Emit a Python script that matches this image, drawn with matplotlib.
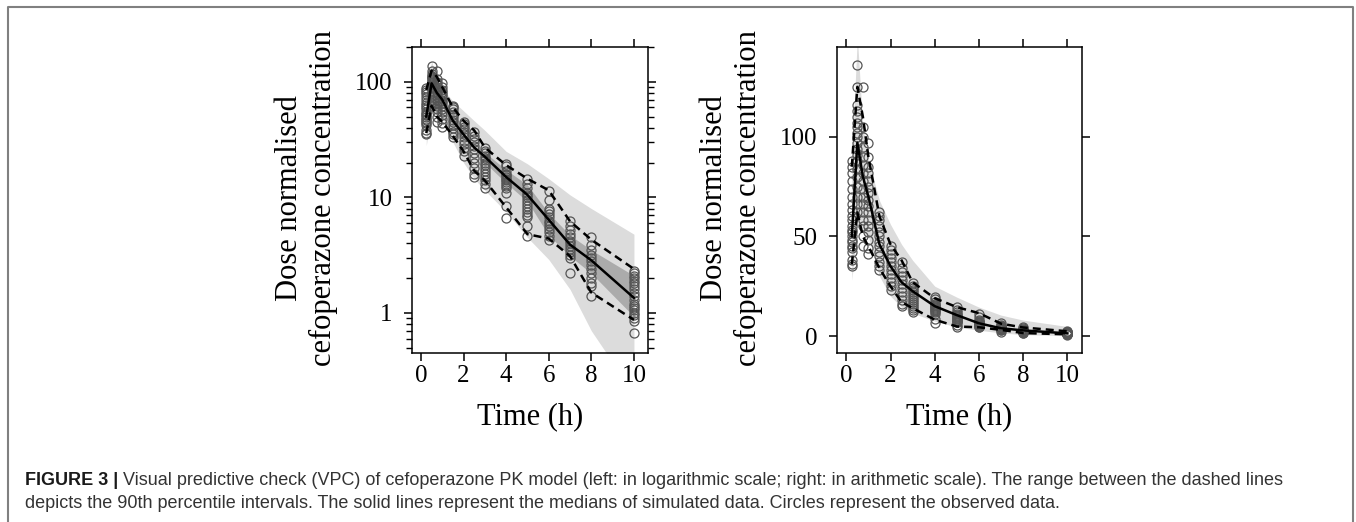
import matplotlib
matplotlib.use('Agg')
import matplotlib.pyplot as plt
from matplotlib.lines import Line2D
from matplotlib.ticker import LogLocator, NullFormatter, FixedLocator, FixedFormatter

# ---------------- data ----------------
bin_times = [0.25, 0.5, 0.75, 1, 1.5, 2, 2.5, 3, 4, 5, 6, 7, 8, 10]

obs_t0_25 = [35, 36, 38, 42, 44, 45, 47, 48, 50, 52, 53, 55, 58, 60, 63, 66, 70, 74, 78, 82, 85, 88]
obs_t0_5 = [62, 66, 70, 75, 80, 84, 88, 91, 94, 97, 100, 102, 105, 107, 110, 113, 116, 125, 136]
obs_t0_75 = [45, 50, 55, 58, 62, 66, 70, 74, 78, 82, 86, 90, 95, 100, 105, 125]
obs_t1 = [41, 44, 48, 52, 55, 58, 62, 65, 68, 72, 75, 78, 82, 85, 90, 97]
obs_t1_5 = [33, 35, 37, 40, 42, 45, 47, 50, 52, 55, 58, 60, 62]
obs_t2 = [23, 25, 27, 29, 31, 33, 35, 37, 39, 41, 43, 45]
obs_t2_5 = [15, 16, 18, 20, 22, 24, 26, 28, 30, 32, 34, 37]
obs_t3 = [12, 13, 14, 15, 16, 17, 18, 19, 20, 21, 22, 23, 24, 25, 26.5]
obs_t4 = [6.6, 8.5, 11, 12, 12.5, 13, 13.5, 14, 14.5, 15, 15.5, 16, 17, 18.5, 19.5]
obs_t5 = [4.6, 5.7, 6.8, 7, 7.5, 8, 8.5, 9, 9.5, 10, 10.5, 11, 12, 13, 14.5]
obs_t6 = [4.3, 4.6, 5, 5.3, 5.6, 6, 6.3, 6.8, 7.2, 7.6, 8, 9.5, 11.3]
obs_t7 = [2.2, 3, 3.2, 3.4, 3.6, 3.8, 4, 4.2, 4.5, 4.8, 5.2, 5.6, 6.3]
obs_t8 = [1.4, 1.7, 1.8, 2, 2.2, 2.4, 2.6, 2.8, 3, 3.2, 3.5, 3.9, 4.5]
obs_t10 = [0.67, 0.85, 0.9, 0.95, 1.0, 1.05, 1.1, 1.15, 1.2, 1.3, 1.4, 1.5, 1.6, 1.7,
           1.8, 1.9, 2.0, 2.1, 2.2, 2.3]

obs_by_time = [obs_t0_25, obs_t0_5, obs_t0_75, obs_t1, obs_t1_5, obs_t2, obs_t2_5,
               obs_t3, obs_t4, obs_t5, obs_t6, obs_t7, obs_t8, obs_t10]

median_sim = [50, 97, 80, 70, 46, 35, 27, 22.5, 15, 10.5, 6.4, 3.9, 2.85, 1.35]
upper_pct = [85, 125, 110, 90, 60, 46, 38, 27, 19, 14.5, 11.5, 6.2, 4.3, 2.4]
lower_pct = [36, 62, 50, 45, 34, 25, 17, 14, 8.2, 4.8, 4.4, 3.1, 1.5, 0.87]

band_outer_hi = [90, 150, 105, 88, 68, 56, 46, 38, 25, 19.5, 14.5, 10.5, 8, 4.8]
band_outer_lo = [28, 55, 52, 50, 30, 20, 14.5, 11.5, 7.5, 4.5, 2.9, 1.6, 0.7, 0.2]

band_med_times = [3, 4, 5, 6, 7, 8, 10]
band_med_hi = [24.5, 17.3, 12.8, 7.3, 4.7, 3.5, 2.1]
band_med_lo = [20, 13.3, 9.2, 4.7, 3.1, 2.2, 0.93]

x_ticks = [0, 2, 4, 6, 8, 10]
log_ticks = [1, 10, 100]
lin_ticks = [0, 50, 100]

ylabel_text = "Dose normalised\ncefoperazone concentration"
xlabel_text = "Time (h)"
caption_bold = "FIGURE 3 |"
caption_line1 = ("Visual predictive check (VPC) of cefoperazone PK model (left: in logarithmic scale; "
                 "right: in arithmetic scale). The range between the dashed lines")
caption_line2 = ("depicts the 90th percentile intervals. The solid lines represent the medians of "
                 "simulated data. Circles represent the observed data.")

# ---------------- figure ----------------
W, H = 1356, 522
fig = plt.figure(figsize=(W / 100, H / 100), dpi=100)
fig.patch.set_facecolor('white')

serif = ['Liberation Serif', 'DejaVu Serif']
sans = ['Liberation Sans', 'DejaVu Sans']

ax_top, ax_bot = 47, 353
ax1 = fig.add_axes([412 / W, 1 - ax_bot / H, 236 / W, (ax_bot - ax_top) / H])
ax2 = fig.add_axes([837 / W, 1 - ax_bot / H, 245 / W, (ax_bot - ax_top) / H])

light = '#dcdcdc'
dark = '#ababab'
circ = '#555555'

obs_x = []
obs_y = []
for t, vals in zip(bin_times, obs_by_time):
    obs_x.extend([t] * len(vals))
    obs_y.extend(vals)

for i, ax in enumerate([ax1, ax2]):
    ax.fill_between(bin_times, band_outer_lo, band_outer_hi, color=light, lw=0, zorder=1)
    if i == 0:
        ax.fill_between(band_med_times, band_med_lo, band_med_hi, color=dark, lw=0, zorder=2)
    ax.plot(obs_x, obs_y, 'o', ms=6.5, mfc='none', mec=circ, mew=0.9, zorder=3)
    ax.plot(bin_times, median_sim, '-', color='black', lw=1.8, zorder=5)
    ax.plot(bin_times, upper_pct, color='black', lw=1.8, ls=(0, (3.2, 2.0)), zorder=4)
    ax.plot(bin_times, lower_pct, color='black', lw=1.8, ls=(0, (3.2, 2.0)), zorder=4)
    ax.set_xlim(-0.42, 10.66)
    ax.xaxis.set_major_locator(FixedLocator(x_ticks))
    ax.set_xticklabels([str(v) for v in x_ticks])
    for s in ax.spines.values():
        s.set_linewidth(1.1)
        s.set_color('black')
    ax.tick_params(axis='both', which='major', direction='out', length=6, width=1.1,
                   top=True, right=True, labeltop=False, labelright=False,
                   labelsize=18, colors='black')
    ax.tick_params(axis='x', pad=3)
    ax.tick_params(axis='y', pad=8)
    for lab in ax.get_xticklabels() + ax.get_yticklabels():
        lab.set_fontfamily(serif)

ax1.set_yscale('log')
ax1.set_ylim(0.45, 200)
ax1.yaxis.set_major_locator(FixedLocator(log_ticks))
ax1.yaxis.set_major_formatter(FixedFormatter([str(v) for v in log_ticks]))
ax1.yaxis.set_minor_locator(LogLocator(base=10, subs=[2, 3, 4, 5, 6, 7, 8, 9]))
ax1.yaxis.set_minor_formatter(NullFormatter())
ax1.tick_params(axis='y', which='minor', direction='out', length=4, width=1.0,
                left=True, right=True)
for lab in ax1.get_yticklabels():
    lab.set_fontfamily(serif)

ax2.set_ylim(-8.5, 145)
ax2.yaxis.set_major_locator(FixedLocator(lin_ticks))
ax2.set_yticklabels([str(v) for v in lin_ticks])
for lab in ax2.get_yticklabels():
    lab.set_fontfamily(serif)

# axis labels
for left_px, right_px in [(412, 648), (837, 1082)]:
    fig.text((left_px - 105.5) / W, 1 - 198 / H, ylabel_text, rotation=90,
             ha='center', va='center', multialignment='center', fontsize=22,
             family=serif, linespacing=1.2)
    fig.text((left_px + right_px) / 2 / W, 1 - 417 / H, xlabel_text,
             ha='center', va='center', fontsize=22, family=serif)

# border
bc = '#808080'
fig.add_artist(Line2D([8 / W, 8 / W, 1353 / W, 1353 / W], [0, 1 - 7 / H, 1 - 7 / H, 0],
                      transform=fig.transFigure, color=bc, lw=1.5))

# caption
cap_fs = 13
fig.canvas.draw()
r = fig.canvas.get_renderer()
tb = fig.text(25 / W, 1 - 485 / H, caption_bold, fontsize=cap_fs, fontweight='bold',
              family=sans, color='#1a1a1a', va='baseline', ha='left')
bb = tb.get_window_extent(r)
fig.text((bb.x1 + 5) / W, 1 - 485 / H, caption_line1, fontsize=cap_fs, family=sans,
         color='#333333', va='baseline', ha='left')
fig.text(25 / W, 1 - 508 / H, caption_line2, fontsize=cap_fs, family=sans,
         color='#333333', va='baseline', ha='left')

fig.savefig('out.png', dpi=100, facecolor='white')
